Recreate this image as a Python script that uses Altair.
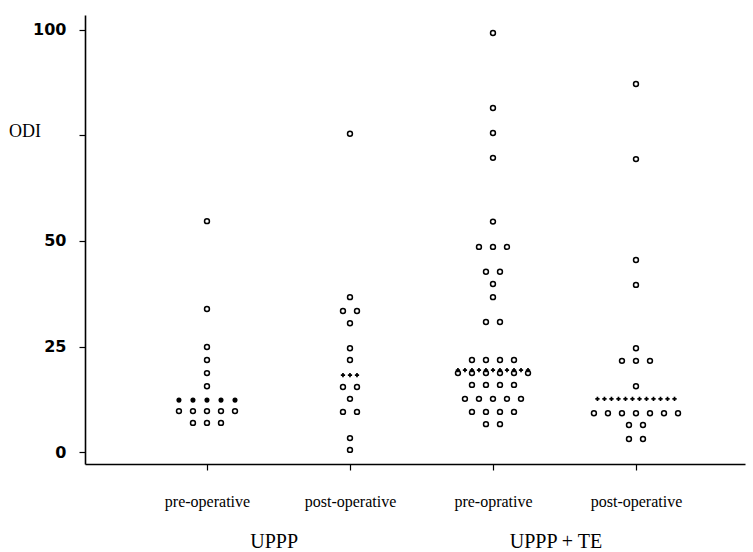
import altair as alt
import pandas as pd

# ---------------- data ----------------
group_labels = ["pre-operative", "post-operative", "pre-oprative", "post-operative"]
study_labels = ["UPPP", "UPPP + TE"]
study_label_pos = [1.47, 3.44]

# each group: ODI level, number of subjects at that level, symbol
g1_values = [54.7, 33.9, 24.9, 21.8, 18.7, 15.6, 12.3, 9.7, 6.9]
g1_counts = [1, 1, 1, 1, 1, 1, 5, 5, 3]
g1_marks = ["o", "o", "o", "o", "o", "o", "dot", "o", "o"]

g2_values = [75.4, 36.7, 33.4, 30.5, 24.6, 21.8, 18.2, 15.4, 12.6, 9.5, 3.3, 0.5]
g2_counts = [1, 1, 2, 1, 1, 1, 3, 2, 1, 2, 1, 1]
g2_marks = ["o", "o", "o", "o", "o", "o", "+", "o", "o", "o", "o", "o"]

g3_values = [99.3, 81.5, 75.6, 69.7, 54.6, 48.6, 42.7, 39.8, 36.7, 30.8,
             21.8, 18.7, 19.4, 15.9, 12.6, 9.5, 6.6]
g3_counts = [1, 1, 1, 1, 1, 3, 2, 1, 1, 2, 4, 6, 11, 4, 5, 4, 2]
g3_marks = ["o", "o", "o", "o", "o", "o", "o", "o", "o", "o",
            "o", "o", "+", "o", "o", "o", "o"]

g4_values = [87.2, 69.4, 45.5, 39.6, 24.6, 21.6, 15.6, 12.6, 9.2, 6.4, 3.1]
g4_counts = [1, 1, 1, 1, 1, 3, 1, 12, 7, 2, 2]
g4_marks = ["o", "o", "o", "o", "o", "o", "o", "+", "o", "o", "o"]

y_ticks = [0, 25, 50, 75, 100]

# ---------------- dot-plot layout (side-by-side stacking) ----------------
STEP = 0.098               # horizontal spacing of circles, in group units
mark_step = {"o": 1.0, "dot": 1.0, "+": 0.5}

rows = []
for gi, (vals, cnts, mks) in enumerate(
        [(g1_values, g1_counts, g1_marks), (g2_values, g2_counts, g2_marks),
         (g3_values, g3_counts, g3_marks), (g4_values, g4_counts, g4_marks)], start=1):
    for v, n, m in zip(vals, cnts, mks):
        for i in range(n):
            off = (i - (n - 1) / 2) * mark_step[m] * STEP
            rows.append({"group": gi, "pos": gi + off, "ODI": v, "mark": m})
df = pd.DataFrame(rows)

W, H = 660, 449
xscale = alt.Scale(domain=[0.147, 0.147 + W / 143], nice=False, zero=False)
yscale = alt.Scale(domain=[-2.84, 103.55], nice=False, zero=False)

label_expr = ("datum.value == 1 ? '%s' : datum.value == 2 ? '%s' : "
              "datum.value == 3 ? '%s' : '%s'") % tuple(group_labels)

base = alt.Chart(df).encode(
    x=alt.X("pos:Q", scale=xscale,
            axis=alt.Axis(values=[1, 2, 3, 4], labelExpr=label_expr, title=None,
                          grid=False, tickSize=6, tickWidth=1.2, tickColor="black",
                          domainColor="black", domainWidth=1.6,
                          labelFont="Liberation Serif", labelFontSize=16,
                          labelColor="black", labelPadding=23, labelBaseline="top")),
    y=alt.Y("ODI:Q", scale=yscale,
            axis=alt.Axis(values=y_ticks, title=None, grid=False,
                          labelExpr="datum.value == 75 ? '' : datum.label",
                          tickSize=6, tickWidth=1.2, tickColor="black",
                          domainColor="black", domainWidth=1.6,
                          labelFont="DejaVu Sans", labelFontWeight="bold",
                          labelFontSize=16, labelColor="black", labelPadding=13)),
)

circles = base.transform_filter(alt.datum.mark == "o").mark_point(
    shape="circle", filled=False, size=24, strokeWidth=1.5, color="black", opacity=1)
dots = base.transform_filter(alt.datum.mark == "dot").mark_point(
    shape="circle", filled=True, size=26, color="black", opacity=1)
pluses = base.transform_filter(alt.datum.mark == "+").mark_point(
    shape="cross", filled=True, size=18, color="black", opacity=1)

odi = alt.Chart(pd.DataFrame({"ODI": [75], "t": ["ODI"]})).mark_text(
    font="Liberation Serif", fontSize=18, color="black", align="center",
    baseline="middle", dy=-3).encode(
    x=alt.value(-60), y=alt.Y("ODI:Q", scale=yscale), text="t:N")

studies = alt.Chart(pd.DataFrame({"pos": study_label_pos, "t": study_labels})).mark_text(
    font="Liberation Serif", fontSize=20, color="black", align="center",
    baseline="alphabetic").encode(
    x=alt.X("pos:Q", scale=xscale), y=alt.value(H + 84), text="t:N")

chart = alt.layer(circles, dots, pluses, odi, studies).properties(
    width=W, height=H,
    autosize=alt.AutoSizeParams(type="none"),
    padding={"left": 85, "top": 15, "right": 8, "bottom": 88},
    background="white",
).configure_view(stroke=None)

chart.save("out.html", embed_options={"renderer": "svg", "actions": False})
